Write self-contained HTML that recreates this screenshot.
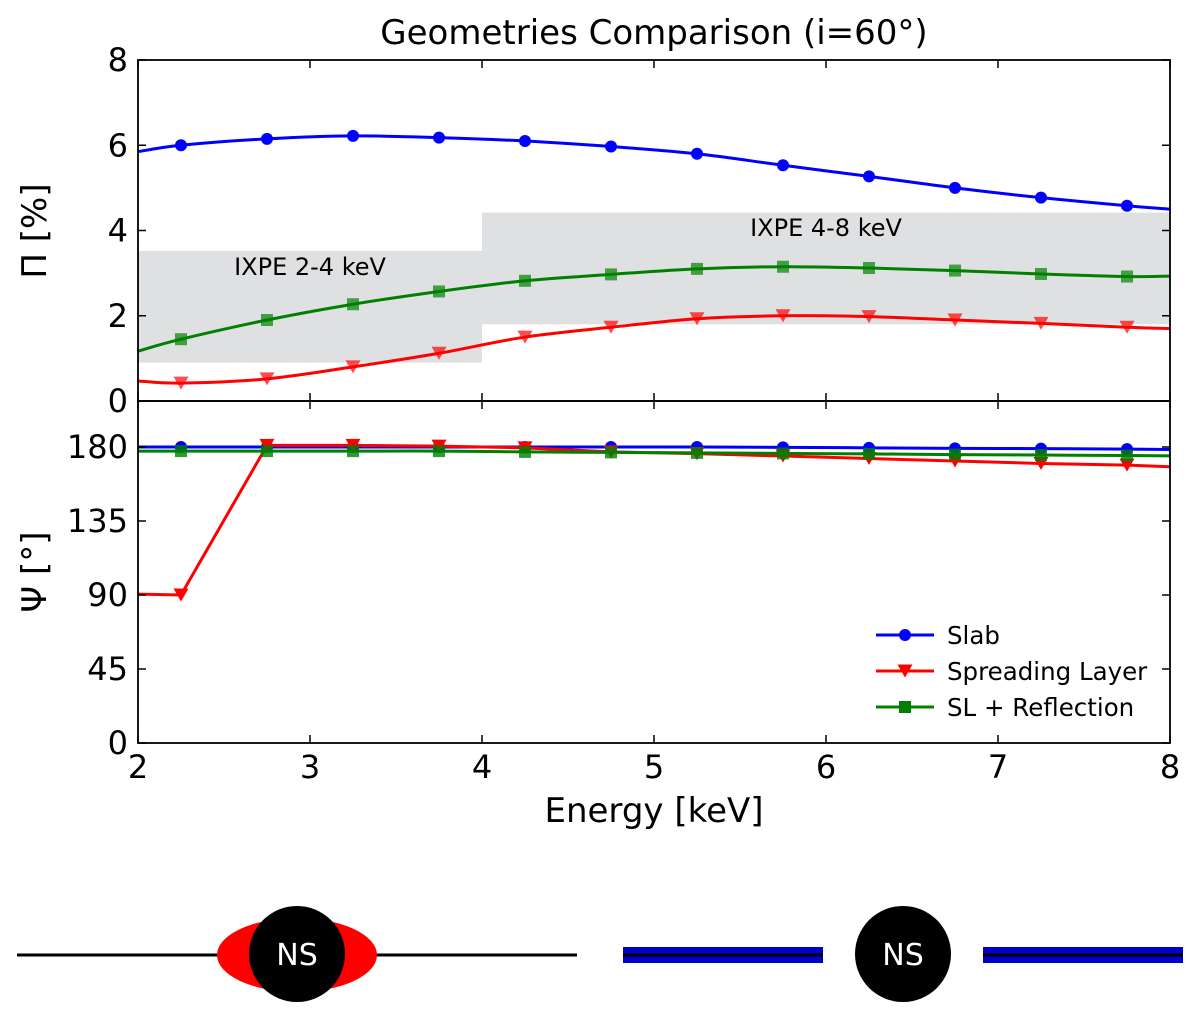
<!DOCTYPE html>
<html><head><meta charset="utf-8"><style>body{margin:0;background:#fff}svg{display:block;font-family:"DejaVu Sans","Liberation Sans",sans-serif}</style></head>
<body>
<svg id="c" width="1200" height="1022"></svg>
<script>
const energies=[2.25,2.75,3.25,3.75,4.25,4.75,5.25,5.75,6.25,6.75,7.25,7.75];
const slabPi=[6.0,6.15,6.22,6.18,6.1,5.97,5.8,5.53,5.27,5.0,4.77,4.58];
const slPi=[0.42,0.52,0.8,1.12,1.5,1.73,1.93,2.0,1.98,1.9,1.82,1.73];
const reflPi=[1.45,1.9,2.27,2.57,2.82,2.97,3.1,3.15,3.12,3.06,2.98,2.92];
const slabPiEnds=[5.85,4.5], slPiEnds=[0.47,1.7], reflPiEnds=[1.17,2.93];
const slabPsi=[180,180,180,180,180,180,180,179.8,179.5,179.2,179,178.7];
const slPsi=[90,181,181,180.5,179.5,177,176,174.5,173,171.5,170,169];
const reflPsi=[177.5,177.5,177.5,177.5,177,176.7,176.4,176.1,175.8,175.4,175.1,174.8];
const slabPsiEnds=[180,178.5], slPsiEnds=[90.5,168], reflPsiEnds=[177.5,174.6];
const ixpeBands=[[2,4,0.9,3.52],[4,8,1.8,4.42]];
const xTicks=[2,3,4,5,6,7,8], piTicks=[0,2,4,6,8], psiTicks=[0,45,90,135,180];
const X0=138,X1=1170;
const xs=v=>X0+(v-2)/6*(X1-X0);
const yPi=v=>401-v*(401-60)/8;
const yPsi=v=>743-v*(743-447)/180;
const S=document.getElementById('c'),NS='http://www.w3.org/2000/svg';
function el(t,a,p){const e=document.createElementNS(NS,t);for(const k in a)e.setAttribute(k,a[k]);(p||S).appendChild(e);return e;}
function txt(s,a){const e=el('text',a);e.textContent=s;return e;}
function smooth(pts){let d='M'+pts[0][0]+','+pts[0][1];for(let i=0;i<pts.length-1;i++){const p0=pts[Math.max(0,i-1)],p1=pts[i],p2=pts[i+1],p3=pts[Math.min(pts.length-1,i+2)];d+=` C${p1[0]+(p2[0]-p0[0])/6},${p1[1]+(p2[1]-p0[1])/6} ${p2[0]-(p3[0]-p1[0])/6},${p2[1]-(p3[1]-p1[1])/6} ${p2[0]},${p2[1]}`;}return d;}
ixpeBands.forEach((b,i)=>{const r=el('rect',{x:xs(b[0]),y:yPi(b[3]),width:xs(b[1])-xs(b[0]),height:yPi(b[2])-yPi(b[3]),fill:'#dfe0e1'});
});
let t=txt('IXPE 2-4 keV',{x:310,y:275,'font-size':24,'text-anchor':'middle'});
t=txt('IXPE 4-8 keV',{x:826,y:236,'font-size':24,'text-anchor':'middle'});
function marker(kind,x,y,c,op){let m;
 if(kind==='o')m=el('circle',{cx:x,cy:y,r:6,fill:c,'fill-opacity':op});
 else if(kind==='v')m=el('path',{d:`M${x-7.5},${y-6.5}L${x+7.5},${y-6.5}L${x},${y+6.5}Z`,fill:c,'fill-opacity':op});
 else m=el('rect',{x:x-6,y:y-6,width:12,height:12,fill:c,'fill-opacity':op});
 }
function series(vals,ends,ys,c,kind,name,linear,op){
 const pts=[[xs(2),ys(ends[0])]].concat(energies.map((e,i)=>[xs(e),ys(vals[i])])).concat([[xs(8),ys(ends[1])]]);
 const d=linear?'M'+pts.map(p=>p.join(',')).join('L'):smooth(pts);
 const p=el('path',{d:d,fill:'none',stroke:c,'stroke-width':3});
 energies.forEach((e,i)=>marker(kind,xs(e),ys(vals[i]),c,op));}
series(slabPi,slabPiEnds,yPi,'#0000ff','o','slab-pi-line',false,1);
series(slPi,slPiEnds,yPi,'#ff0000','v','sl-pi-line',false,0.7);
series(reflPi,reflPiEnds,yPi,'#008000','s','refl-pi-line',false,0.7);
series(slabPsi,slabPsiEnds,yPsi,'#0000ff','o','slab-psi-line',false,1);
series(slPsi,slPsiEnds,yPsi,'#ff0000','v','sl-psi-line',true,1);
series(reflPsi,reflPsiEnds,yPsi,'#008000','s','refl-psi-line',false,0.8);
let f=el('rect',{x:X0,y:60,width:X1-X0,height:341,fill:'none',stroke:'#000','stroke-width':1.8});
f=el('rect',{x:X0,y:401,width:X1-X0,height:342,fill:'none',stroke:'#000','stroke-width':1.8});
xTicks.forEach(v=>{[[60,1],[401,-1],[401,1],[743,-1]].forEach(([y,s])=>el('line',{x1:xs(v),x2:xs(v),y1:y,y2:y+s*8,stroke:'#000','stroke-width':1.5}));
 const l=txt(v,{x:xs(v),y:778,'font-size':32,'text-anchor':'middle'});});
piTicks.forEach(v=>{el('line',{x1:X0,x2:X0+8,y1:yPi(v),y2:yPi(v),stroke:'#000','stroke-width':1.5});el('line',{x1:X1,x2:X1-8,y1:yPi(v),y2:yPi(v),stroke:'#000','stroke-width':1.5});
 const l=txt(v,{x:128,y:yPi(v)+11,'font-size':32,'text-anchor':'end'});});
psiTicks.forEach(v=>{el('line',{x1:X0,x2:X0+8,y1:yPsi(v),y2:yPsi(v),stroke:'#000','stroke-width':1.5});el('line',{x1:X1,x2:X1-8,y1:yPsi(v),y2:yPsi(v),stroke:'#000','stroke-width':1.5});
 const l=txt(v,{x:128,y:yPsi(v)+11,'font-size':32,'text-anchor':'end'});});
t=txt('Geometries Comparison (i=60°)',{x:654,y:44,'font-size':34,'text-anchor':'middle'});
t=txt('Energy [keV]',{x:654,y:822,'font-size':34,'text-anchor':'middle'});
t=txt('Π [%]',{x:46,y:231,'font-size':34,'text-anchor':'middle',transform:'rotate(-90 46 231)'});
t=txt('Ψ [°]',{x:46,y:572,'font-size':34,'text-anchor':'middle',transform:'rotate(-90 46 572)'});
[['Slab','#0000ff','o',635],['Spreading Layer','#ff0000','v',671],['SL + Reflection','#008000','s',707]].forEach(([n,c,k,y])=>{
 const l=el('line',{x1:876,x2:934,y1:y,y2:y,stroke:c,'stroke-width':3});
 marker(k,905,y,c,1);
 const tt=txt(n,{x:947,y:y+9,'font-size':24.5});});
let g=el('g',{});
el('line',{x1:17,x2:577,y1:955,y2:955,stroke:'#000','stroke-width':3},g);
el('ellipse',{cx:297,cy:955,rx:80,ry:37,fill:'#ff0000'},g);
el('circle',{cx:297,cy:954,r:48,fill:'#000'},g);
let n=el('text',{x:297,y:965,'font-size':30,fill:'#fff','text-anchor':'middle'},g);n.textContent='NS';
g=el('g',{});
[[623,823],[983,1183]].forEach(([a,b])=>{el('rect',{x:a,y:947,width:b-a,height:16,fill:'#0000cc'},g);el('line',{x1:a,x2:b,y1:955,y2:955,stroke:'#000','stroke-width':3},g);});
el('circle',{cx:903,cy:954,r:48,fill:'#000'},g);
n=el('text',{x:903,y:965,'font-size':30,fill:'#fff','text-anchor':'middle'},g);n.textContent='NS';
</script>
</body></html>
